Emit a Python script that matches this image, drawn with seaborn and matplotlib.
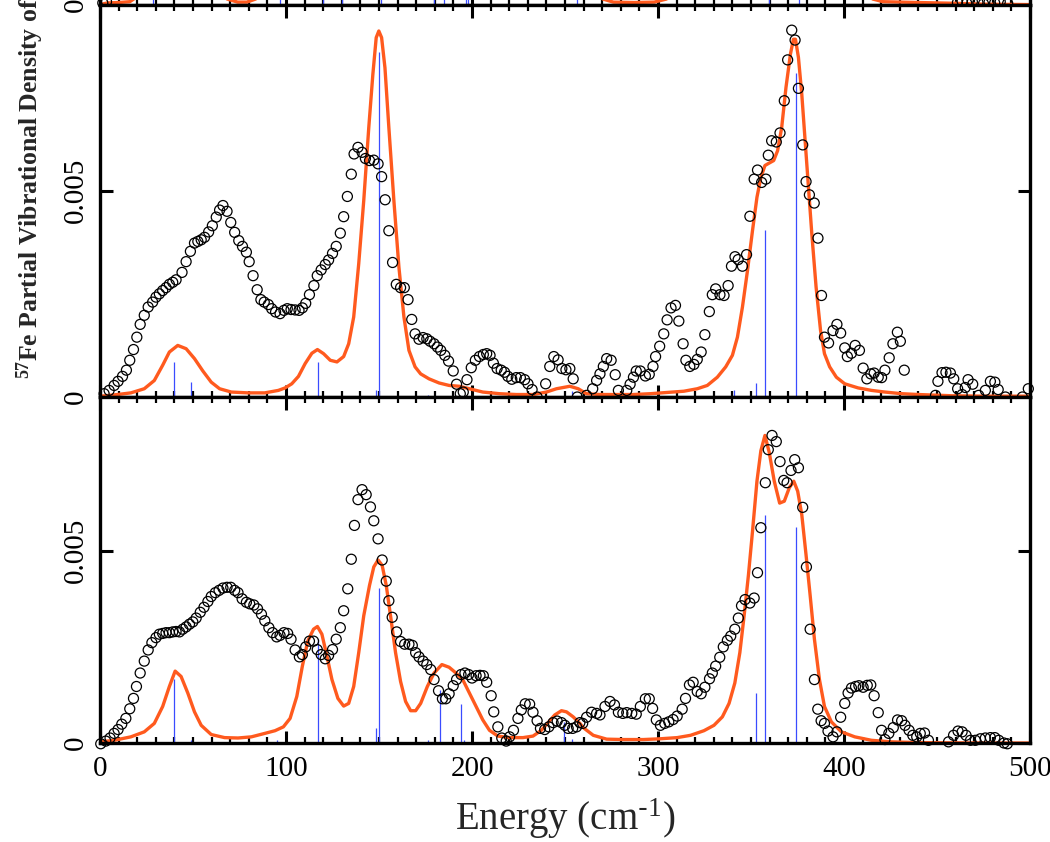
import numpy as np
import pandas as pd
import matplotlib
matplotlib.use("Agg")
import matplotlib.pyplot as plt
from matplotlib.ticker import MultipleLocator
import seaborn as sns

# ----------------------------
# DATA  (energy in cm-1, 57Fe PVDOS)
# ----------------------------
# middle panel: measured points (circles)
mid_exp = [
    (2.2, 0.00008), (4.9, 0.00016), (7.6, 0.00028), (9.7, 0.00038), (12.1, 0.00050), (14.2, 0.00065),
    (16.0, 0.00089), (18.0, 0.00115), (19.8, 0.00145), (21.6, 0.00176), (23.8, 0.00198), (25.9, 0.00218),
    (28.3, 0.00230), (30.1, 0.00242), (31.9, 0.00250), (33.7, 0.00258), (35.5, 0.00265), (37.3, 0.00273),
    (39.1, 0.00278), (40.9, 0.00284), (44.1, 0.00302), (46.3, 0.00328), (48.6, 0.00353), (50.8, 0.00373),
    (52.6, 0.00377), (54.4, 0.00381), (56.2, 0.00387), (58.4, 0.00400), (60.4, 0.00415), (62.5, 0.00436),
    (64.3, 0.00453), (66.1, 0.00464), (68.3, 0.00450), (70.3, 0.00423), (72.4, 0.00399), (74.6, 0.00379),
    (76.6, 0.00365), (78.7, 0.00351), (80.2, 0.00328), (82.3, 0.00294), (84.5, 0.00260), (86.5, 0.00236),
    (88.3, 0.00230), (90.5, 0.00224), (92.3, 0.00214), (94.4, 0.00206), (96.8, 0.00202), (98.9, 0.00210),
    (100.7, 0.00214), (102.7, 0.00212), (104.9, 0.00211), (107.0, 0.00210), (108.8, 0.00216), (110.6, 0.00227),
    (112.6, 0.00248), (115.0, 0.00270), (116.8, 0.00294), (118.9, 0.00308), (121.1, 0.00321), (122.9, 0.00332),
    (125.0, 0.00348), (127.0, 0.00365), (129.2, 0.00397), (131.0, 0.00437), (133.0, 0.00486), (135.1, 0.00540),
    (136.6, 0.00589), (138.7, 0.00605), (140.9, 0.00593), (142.7, 0.00578), (144.9, 0.00573), (147.2, 0.00574),
    (149.5, 0.00565), (151.4, 0.00534), (153.3, 0.00478), (155.3, 0.00403), (157.3, 0.00326), (159.3, 0.00273),
    (161.6, 0.00265), (163.6, 0.00265), (165.6, 0.00236), (167.6, 0.00188), (169.4, 0.00153), (171.5, 0.00140),
    (173.7, 0.00144), (175.7, 0.00141), (177.5, 0.00135), (179.6, 0.00129), (181.4, 0.00121), (183.2, 0.00113),
    (185.4, 0.00101), (187.4, 0.00087), (189.9, 0.00063), (191.7, 0.00031), (193.7, 0.00008), (195.3, 0.00012),
    (197.3, 0.00042), (199.6, 0.00071), (201.8, 0.00089), (204.0, 0.00098), (206.1, 0.00103), (207.9, 0.00105),
    (209.7, 0.00101), (211.5, 0.00082), (213.5, 0.00069), (215.7, 0.00065), (217.5, 0.00060), (219.3, 0.00050),
    (221.4, 0.00043), (223.8, 0.00047), (226.0, 0.00047), (228.3, 0.00042), (230.1, 0.00032), (232.3, 0.00018),
    (235.0, 0.0), (239.6, 0.00032), (241.8, 0.00074), (244.0, 0.00098), (246.3, 0.00090), (248.3, 0.00069),
    (250.5, 0.00066), (252.6, 0.00069), (254.4, 0.00044), (256.6, 0.0), (261.6, 0.00004), (264.9, 0.00020),
    (267.0, 0.00040), (268.8, 0.00056), (270.6, 0.00074), (272.4, 0.00093), (274.8, 0.00089), (277.0, 0.00054),
    (278.7, 0.00016), (283.2, 0.00016), (285.0, 0.00031), (286.8, 0.00048), (288.3, 0.00063), (290.5, 0.00063),
    (293.2, 0.00051), (295.3, 0.00055), (297.3, 0.00074), (298.7, 0.00098), (300.9, 0.00123), (303.1, 0.00153),
    (304.9, 0.00187), (307.0, 0.00216), (309.4, 0.00222), (311.2, 0.00184), (313.5, 0.00129), (315.0, 0.00089),
    (317.1, 0.00074), (319.3, 0.00079), (321.1, 0.00091), (323.2, 0.00109), (325.2, 0.00151), (327.6, 0.00207),
    (329.2, 0.00248), (331.0, 0.00262), (333.3, 0.00248), (335.5, 0.00246), (337.7, 0.00270), (339.5, 0.00317),
    (341.4, 0.00340), (343.1, 0.00333), (345.4, 0.00317), (347.6, 0.00345), (349.4, 0.00438), (351.7, 0.00528),
    (353.5, 0.00550), (355.7, 0.00520), (358.0, 0.00528), (359.3, 0.00586), (361.1, 0.00621), (363.6, 0.00618),
    (365.6, 0.00640), (367.9, 0.00718), (369.7, 0.00817), (371.9, 0.00889), (373.7, 0.00865), (375.5, 0.00748),
    (377.8, 0.00611), (379.6, 0.00522), (381.4, 0.00490), (384.0, 0.00470), (386.0, 0.00385), (387.9, 0.00246),
    (389.5, 0.00145), (391.7, 0.00131), (394.1, 0.00161), (396.2, 0.00176), (398.2, 0.00155), (400.4, 0.00119),
    (401.8, 0.00098), (404.0, 0.00106), (406.0, 0.00125), (408.3, 0.00113), (410.3, 0.00070), (412.3, 0.00044),
    (414.4, 0.00056), (416.2, 0.00058), (418.4, 0.00048), (420.2, 0.00047), (422.0, 0.00065), (424.3, 0.00095),
    (426.3, 0.00129), (428.7, 0.00157), (430.3, 0.00135), (432.4, 0.00065), (449.2, 0.00004), (450.5, 0.00038),
    (452.7, 0.00059), (454.8, 0.00060), (457.2, 0.00058), (459.0, 0.00044), (461.1, 0.00020), (463.5, 0.00006),
    (465.2, 0.00023), (466.7, 0.00042), (469.2, 0.00031), (472.4, 0.00004), (476.0, 0.00016), (478.7, 0.00038),
    (481.1, 0.00036), (482.9, 0.00018), (486.8, 0.0), (495.9, 0.0), (499.1, 0.00020),
]

# middle panel: calculated curve (orange)
mid_calc = [
    (0.4, 0.00002), (9.4, 0.00006), (16.6, 0.00010), (23.8, 0.00020), (29.2, 0.00040), (33.7, 0.00077),
    (37.3, 0.00109), (41.8, 0.00125), (46.3, 0.00117), (50.8, 0.00093), (55.3, 0.00063), (59.8, 0.00036),
    (64.3, 0.00020), (70.6, 0.00012), (79.6, 0.00010), (88.6, 0.00010), (95.9, 0.00016), (99.5, 0.00022),
    (103.1, 0.00032), (106.7, 0.00050), (110.3, 0.00081), (113.9, 0.00106), (116.9, 0.00115), (120.2, 0.00105),
    (123.8, 0.00089), (127.4, 0.00085), (131.0, 0.00098), (133.7, 0.00129), (136.4, 0.00194), (139.1, 0.00323),
    (141.8, 0.00476), (144.5, 0.00653), (146.7, 0.00782), (148.5, 0.00871), (149.9, 0.00887), (151.4, 0.00871),
    (153.2, 0.00798), (155.3, 0.00653), (158.0, 0.00476), (160.7, 0.00315), (163.4, 0.00194), (166.1, 0.00113),
    (169.4, 0.00073), (172.4, 0.00056), (176.9, 0.00044), (182.3, 0.00034), (187.7, 0.00028), (193.2, 0.00026),
    (198.6, 0.00020), (205.8, 0.00012), (214.8, 0.00008), (223.8, 0.00006), (232.8, 0.00006), (240.0, 0.00012),
    (245.4, 0.00020), (252.6, 0.00026), (257.1, 0.00020), (261.6, 0.00008), (268.8, 0.00006), (277.8, 0.00006),
    (286.8, 0.00006), (295.9, 0.00008), (304.9, 0.00011), (313.9, 0.00014), (321.1, 0.00020), (326.5, 0.00028),
    (331.9, 0.00048), (336.4, 0.00073), (340.0, 0.00101), (342.7, 0.00145), (345.4, 0.00218), (348.1, 0.00306),
    (350.8, 0.00403), (353.2, 0.00484), (355.3, 0.00532), (357.5, 0.00561), (359.8, 0.00567), (362.2, 0.00573),
    (364.3, 0.00597), (366.5, 0.00653), (368.8, 0.00750), (371.2, 0.00831), (372.8, 0.00867), (373.9, 0.00867),
    (375.5, 0.00823), (377.3, 0.00734), (379.1, 0.00621), (380.9, 0.00508), (382.7, 0.00395), (385.0, 0.00266),
    (387.4, 0.00161), (389.5, 0.00105), (392.3, 0.00073), (395.9, 0.00048), (400.4, 0.00032), (407.6, 0.00022),
    (414.8, 0.00016), (422.0, 0.00012), (431.0, 0.00008), (440.0, 0.00006), (458.0, 0.00003), (476.0, 0.00002),
    (500.0, 0.00002),
]

# bottom panel: measured points
bot_exp = [
    (0.4, -0.00002), (3.1, 0.00005), (5.4, 0.00013), (7.6, 0.00025), (9.7, 0.00035), (11.7, 0.00049),
    (13.9, 0.00064), (16.0, 0.00089), (18.0, 0.00116), (19.6, 0.00147), (21.6, 0.00182), (23.8, 0.00213),
    (25.9, 0.00242), (27.9, 0.00261), (30.1, 0.00274), (31.9, 0.00283), (33.7, 0.00285), (35.5, 0.00287),
    (37.3, 0.00287), (39.1, 0.00289), (40.9, 0.00290), (42.7, 0.00289), (44.5, 0.00296), (46.3, 0.00302),
    (48.1, 0.00309), (49.9, 0.00315), (51.7, 0.00325), (53.9, 0.00340), (55.9, 0.00353), (58.0, 0.00368),
    (59.8, 0.00381), (62.0, 0.00391), (64.0, 0.00397), (66.1, 0.00403), (68.3, 0.00405), (70.3, 0.00405),
    (72.4, 0.00397), (74.2, 0.00391), (76.4, 0.00375), (78.7, 0.00366), (80.5, 0.00362), (82.7, 0.00359),
    (84.7, 0.00349), (86.8, 0.00335), (88.6, 0.00318), (90.8, 0.00300), (92.8, 0.00287), (95.0, 0.00276),
    (96.8, 0.00280), (98.9, 0.00287), (100.9, 0.00285), (102.7, 0.00270), (104.9, 0.00242), (107.2, 0.00224),
    (108.8, 0.00230), (110.6, 0.00250), (112.6, 0.00265), (114.8, 0.00265), (116.8, 0.00243), (118.9, 0.00230),
    (121.1, 0.00219), (122.9, 0.00228), (125.0, 0.00243), (127.0, 0.00270), (129.2, 0.00300), (131.0, 0.00344),
    (133.2, 0.00401), (135.1, 0.00478), (136.8, 0.00566), (138.7, 0.00633), (140.9, 0.00659), (143.1, 0.00646),
    (145.4, 0.00614), (147.2, 0.00578), (149.5, 0.00531), (151.7, 0.00476), (153.9, 0.00421), (155.3, 0.00370),
    (157.1, 0.00327), (159.5, 0.00289), (161.6, 0.00264), (163.8, 0.00257), (166.1, 0.00257), (167.9, 0.00254),
    (169.7, 0.00235), (171.5, 0.00224), (173.7, 0.00213), (175.7, 0.00204), (177.8, 0.00191), (179.6, 0.00165),
    (182.0, 0.00136), (184.1, 0.00115), (185.9, 0.00115), (187.7, 0.00128), (189.9, 0.00149), (191.7, 0.00165),
    (194.1, 0.00178), (196.2, 0.00182), (198.2, 0.00178), (200.0, 0.00169), (202.2, 0.00175), (204.3, 0.00176),
    (206.1, 0.00175), (207.9, 0.00158), (210.3, 0.00123), (211.7, 0.00081), (213.9, 0.00042), (216.0, 0.00013),
    (218.4, 0.00005), (220.2, 0.00016), (222.3, 0.00033), (224.7, 0.00064), (226.5, 0.00086), (228.6, 0.00102),
    (231.0, 0.00101), (232.8, 0.00080), (235.0, 0.00058), (236.8, 0.00038), (239.1, 0.00035), (241.3, 0.00042),
    (243.6, 0.00053), (245.8, 0.00057), (248.1, 0.00053), (249.9, 0.00046), (251.7, 0.00038), (254.1, 0.00038),
    (256.2, 0.00042), (258.0, 0.00053), (259.5, 0.00051), (261.6, 0.00067), (264.3, 0.00080), (267.0, 0.00077),
    (268.8, 0.00073), (271.5, 0.00095), (274.2, 0.00108), (276.6, 0.00099), (278.7, 0.00080), (281.1, 0.00077),
    (283.2, 0.00079), (285.9, 0.00077), (288.3, 0.00075), (290.5, 0.00095), (293.2, 0.00115), (295.3, 0.00115),
    (297.1, 0.00090), (299.1, 0.00060), (301.3, 0.00046), (303.6, 0.00051), (305.8, 0.00055), (308.1, 0.00061),
    (310.3, 0.00070), (313.0, 0.00088), (314.8, 0.00116), (316.9, 0.00151), (318.9, 0.00158), (321.1, 0.00134),
    (323.2, 0.00128), (325.2, 0.00145), (327.7, 0.00167), (329.2, 0.00182), (331.0, 0.00200), (333.2, 0.00223),
    (335.1, 0.00250), (337.3, 0.00267), (339.1, 0.00278), (341.3, 0.00296), (343.2, 0.00325), (344.9, 0.00357),
    (346.8, 0.00373), (349.4, 0.00364), (351.7, 0.00377), (353.5, 0.00443), (355.3, 0.00560), (357.7, 0.00677),
    (359.3, 0.00763), (361.3, 0.00800), (363.6, 0.00784), (365.6, 0.00732), (367.6, 0.00683), (369.4, 0.00677),
    (371.5, 0.00709), (373.5, 0.00737), (375.5, 0.00716), (377.8, 0.00613), (379.8, 0.00458), (381.8, 0.00296),
    (384.1, 0.00165), (385.9, 0.00088), (387.7, 0.00058), (389.5, 0.00051), (391.4, 0.00031), (394.1, 0.00016),
    (396.2, 0.00029), (398.2, 0.00067), (400.4, 0.00103), (402.2, 0.00130), (404.0, 0.00143), (406.2, 0.00147),
    (408.0, 0.00149), (410.3, 0.00145), (412.5, 0.00150), (414.4, 0.00151), (416.2, 0.00123), (418.4, 0.00079),
    (420.2, 0.00033), (422.0, 0.00009), (424.1, 0.00025), (426.5, 0.00040), (428.8, 0.00060), (431.0, 0.00058),
    (432.8, 0.00046), (435.0, 0.00033), (437.0, 0.00020), (439.1, 0.00016), (441.0, 0.00025), (443.3, 0.00026),
    (445.4, 0.00007), (456.2, 0.00003), (458.9, 0.00020), (461.3, 0.00031), (463.5, 0.00029), (465.6, 0.00020),
    (468.0, 0.00007), (470.6, 0.00007), (473.3, 0.00011), (476.0, 0.00013), (478.7, 0.00014), (481.1, 0.00014),
    (483.2, 0.00007), (486.0, 0.0), (487.8, -0.00002),
]

# bottom panel: calculated curve
bot_calc = [
    (0.0, 0.00003), (7.6, 0.00007), (16.6, 0.00016), (23.8, 0.00029), (29.2, 0.00051), (33.7, 0.00095),
    (37.3, 0.00147), (40.4, 0.00187), (43.6, 0.00173), (47.2, 0.00130), (50.8, 0.00081), (54.4, 0.00046),
    (59.8, 0.00022), (67.0, 0.00014), (74.2, 0.00013), (81.4, 0.00016), (88.6, 0.00025), (94.1, 0.00032),
    (98.6, 0.00042), (102.2, 0.00064), (105.8, 0.00121), (108.8, 0.00200), (111.7, 0.00265), (114.8, 0.00296),
    (116.9, 0.00303), (119.3, 0.00283), (122.0, 0.00226), (124.7, 0.00165), (127.9, 0.00116), (131.0, 0.00096),
    (133.7, 0.00103), (136.4, 0.00147), (139.1, 0.00235), (141.8, 0.00331), (144.9, 0.00410), (147.2, 0.00458),
    (149.5, 0.00476), (151.7, 0.00462), (153.9, 0.00410), (156.2, 0.00331), (158.9, 0.00235), (161.6, 0.00160),
    (164.3, 0.00108), (167.0, 0.00084), (169.7, 0.00084), (172.4, 0.00103), (176.0, 0.00147), (179.6, 0.00182),
    (183.8, 0.00204), (187.7, 0.00197), (191.4, 0.00182), (195.0, 0.00165), (198.6, 0.00130), (202.2, 0.00095),
    (205.8, 0.00060), (209.4, 0.00033), (213.9, 0.00018), (220.2, 0.00014), (227.4, 0.00014), (232.8, 0.00018),
    (237.3, 0.00033), (240.9, 0.00053), (244.5, 0.00073), (248.1, 0.00084), (250.8, 0.00081), (254.4, 0.00068),
    (258.0, 0.00051), (259.8, 0.00040), (265.2, 0.00020), (272.4, 0.00010), (281.4, 0.00009), (292.2, 0.00009),
    (301.3, 0.00011), (310.3, 0.00014), (317.5, 0.00020), (324.7, 0.00032), (330.1, 0.00046), (334.6, 0.00068),
    (338.2, 0.00103), (341.3, 0.00156), (344.0, 0.00235), (346.3, 0.00331), (348.6, 0.00436), (350.8, 0.00550),
    (353.2, 0.00681), (355.3, 0.00760), (357.5, 0.00800), (359.8, 0.00756), (362.5, 0.00681), (365.4, 0.00624),
    (367.9, 0.00629), (370.6, 0.00664), (373.0, 0.00681), (375.1, 0.00655), (377.3, 0.00594), (379.6, 0.00489),
    (381.8, 0.00384), (384.1, 0.00270), (386.8, 0.00165), (389.5, 0.00095), (393.2, 0.00055), (398.6, 0.00029),
    (405.8, 0.00016), (414.8, 0.00007), (425.6, 0.00003), (440.0, 0.00001), (476.0, 0.0), (500.0, 0.0),
]

# calculated mode energies (blue sticks) and their weights in each panel
stick_e = [40.0, 49.0, 95.0, 117.0, 148.5, 150.0, 176.6, 182.7, 193.9, 195.5, 249.4, 254.0, 341.1, 352.9, 357.6, 374.3]
mid_stick = [0.00085, 0.00036, 0.0, 0.00085, 0.00016, 0.00835, 0.00005, 0.00002, 0.00002, 0.0, 0.00002, 0.00015,
             0.00016, 0.00034, 0.00405, 0.00784]
bot_stick = [0.00166, 0.00009, 0.00007, 0.00270, 0.00038, 0.00403, 0.00007, 0.00138, 0.00102, 0.00007, 0.00055,
             0.00010, 0.0, 0.00131, 0.00592, 0.00563]

# top panel (cut off by the frame, only its baseline is visible)
top_exp = [(1.5, 0.00005), (3.5, 0.00008), (461.0, 0.00006), (463.5, 0.00009), (466.0, 0.00004), (469.0, 0.00008),
           (472.0, 0.00006), (475.0, 0.00003), (478.0, 0.00007), (481.0, 0.00005), (484.0, 0.00008), (488.0, 0.00004)]
top_calc = [
    (0, 0.00001), (4, 0.00005), (10, 0.00006), (16, 0.00008), (20, 0.0002), (30, 0.0008), (40, 0.0012), (50, 0.0009),
    (60, 0.0004), (68, 0.00015), (74, 0.00007), (79, 0.00007), (84, 0.00015), (95, 0.0005), (110, 0.0015),
    (130, 0.003), (150, 0.007), (165, 0.002), (180, 0.0015), (195, 0.0012), (215, 0.0006), (240, 0.0004),
    (258, 0.0005), (270, 0.00015), (276, 0.00007), (287, 0.00006), (298, 0.00007), (305, 0.00015), (320, 0.0004),
    (340, 0.0012), (360, 0.005), (376, 0.007), (390, 0.002), (405, 0.0005), (415, 0.00015), (421, 0.00008),
    (440, 0.00006), (461, 0.00004), (475, 0.00002), (500, 0.00001),
]
top_stick_e = [28.6, 97.0, 120.0, 130.0, 151.0, 179.5, 185.0, 197.0, 198.0, 256.6, 359.6, 376.0]
top_stick = [0.001, 0.0005, 0.002, 0.001, 0.006, 0.0008, 0.0006, 0.0005, 0.0005, 0.0003, 0.004, 0.006]

y_ticks = [0, 0.005]
y_tick_labels = ["0", "0.005"]

ORANGE = "#ff5a1e"
BLUE = "#3a4cff"

# ----------------------------
# STYLE
# ----------------------------
sns.set_theme(style="ticks")
plt.rcParams["font.family"] = ["Liberation Serif", "DejaVu Serif"]
plt.rcParams["mathtext.default"] = "regular"
plt.rcParams["axes.linewidth"] = 2.4
plt.rcParams["axes.edgecolor"] = "black"


def draw_panel(ax, exp, calc, sticks_e, sticks_y, ymax, show_xlabels):
    exp_df = pd.DataFrame(exp, columns=["energy", "pvdos"])
    calc_df = pd.DataFrame(calc, columns=["energy", "pvdos"])

    ax.vlines(sticks_e, 0, sticks_y, color=BLUE, lw=0.9, zorder=1)
    sns.lineplot(data=calc_df, x="energy", y="pvdos", ax=ax, color=ORANGE, lw=2.4,
                 sort=False, estimator=None, zorder=2)
    sns.scatterplot(data=exp_df, x="energy", y="pvdos", ax=ax, marker="o", s=52,
                    facecolor="none", edgecolor="black", linewidth=0.9, zorder=3, clip_on=False)

    ax.set_xlim(0, 500)
    ax.set_ylim(0, ymax)
    ax.xaxis.set_major_locator(MultipleLocator(100))
    ax.xaxis.set_minor_locator(MultipleLocator(10))
    ax.set_yticks(y_ticks, labels=y_tick_labels)
    ax.tick_params(which="both", direction="in", top=True, right=True, colors="black")
    ax.tick_params(which="major", length=9, width=2.2, labelsize=21, pad=9)
    ax.tick_params(which="minor", length=4.5, width=1.6)
    ax.tick_params(axis="y", labelrotation=90, pad=8)
    for lab in ax.get_yticklabels():
        lab.set_va("center")
    if not show_xlabels:
        ax.tick_params(axis="x", labelbottom=False)
    ax.set_xlabel("")
    ax.set_ylabel("")
    for sp in ax.spines.values():
        sp.set_visible(True)
        sp.set_linewidth(2.4)


# ----------------------------
# FIGURE
# ----------------------------
fig = plt.figure(figsize=(10.5, 8.42), dpi=100)
L, W = 100 / 1050, 930 / 1050

ax_top = fig.add_axes([L, 1 - 5 / 842, W, 392 / 842])
ax_mid = fig.add_axes([L, 1 - 397 / 842, W, 392 / 842])
ax_bot = fig.add_axes([L, 1 - 743 / 842, W, 346 / 842])

draw_panel(ax_top, top_exp, top_calc, top_stick_e, top_stick, 0.0095, False)
draw_panel(ax_mid, mid_exp, mid_calc, stick_e, mid_stick, 0.0095, False)
draw_panel(ax_bot, bot_exp, bot_calc, stick_e, bot_stick, 0.009, True)

ax_bot.set_xlabel(r"Energy (cm$^{\text{-}1}$)", fontsize=28, labelpad=11)

fig.text(30 / 1050, 1 - 379 / 842, "$^{57}$Fe Partial Vibrational Density of States",
         rotation=90, ha="center", va="bottom", fontsize=18.5, fontweight="bold")

fig.savefig("out.png", dpi=100)
